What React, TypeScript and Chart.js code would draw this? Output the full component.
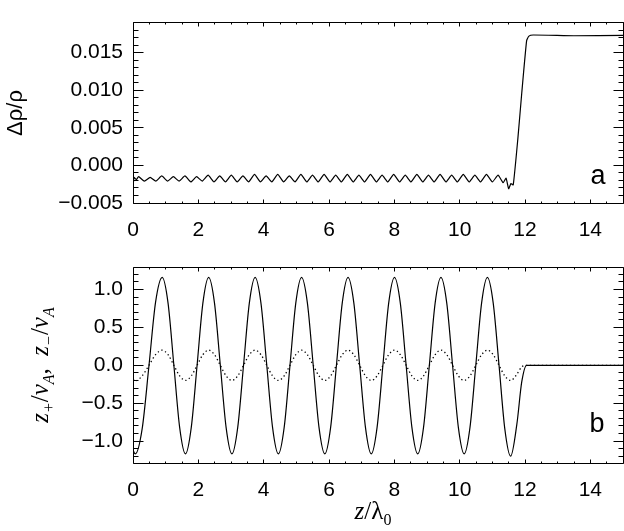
import React, { useEffect, useRef } from "react";
import { Chart, registerables } from "chart.js";
Chart.register(...registerables);

// ---- Panel a: density perturbation ----
const zTop = [
  0, 0.03, 0.10, 0.17, 0.35, 0.525, 0.70, 0.88, 1.06, 1.235, 1.41, 1.59, 1.77, 1.945, 2.12,
  2.30, 2.48, 2.655, 2.83, 3.01, 3.19, 3.365, 3.54, 3.72, 3.90, 4.075, 4.25, 4.43, 4.61,
  4.785, 4.96, 5.14, 5.32, 5.495, 5.67, 5.85, 6.03, 6.205, 6.38, 6.56, 6.74, 6.915, 7.09,
  7.27, 7.45, 7.625, 7.80, 7.98, 8.16, 8.335, 8.51, 8.69, 8.87, 9.045, 9.22, 9.40, 9.58,
  9.755, 9.93, 10.11, 10.29, 10.465, 10.64, 10.82, 11.00, 11.175, 11.33, 11.42, 11.50,
  11.57, 11.64, 11.78, 11.90, 12.05, 12.12, 12.25, 13.5, 15.0,
];
const rhoTop = [
  -0.0031, -0.0016, -0.0019, -0.0015, -0.0021, -0.0016, -0.0021, -0.0014, -0.0021, -0.0015, -0.0021, -0.0014, -0.0022, -0.0015, -0.0021,
  -0.0013, -0.0022, -0.0014, -0.0022, -0.0013, -0.0022, -0.0014, -0.0022, -0.0012, -0.0022, -0.0014, -0.0022, -0.0012, -0.0022,
  -0.0014, -0.0022, -0.0012, -0.0022, -0.0013, -0.0022, -0.0012, -0.0022, -0.0013, -0.0022, -0.0012, -0.0022, -0.0013, -0.0022,
  -0.0012, -0.0022, -0.0013, -0.0022, -0.0012, -0.0022, -0.0013, -0.0022, -0.0012, -0.0022, -0.0013, -0.0022, -0.0012, -0.0022,
  -0.0013, -0.0022, -0.0012, -0.0022, -0.0013, -0.0022, -0.0012, -0.0022, -0.0013, -0.0023, -0.0017, -0.0031,
  -0.0024, -0.0026, 0.0035, 0.0096, 0.0166, 0.0172, 0.01735, 0.01725, 0.0173,
];

// ---- Panel b: Elsasser variables ----
const zBot = [
  0, 0.07, 0.28, 0.49, 0.69,
  0.895, 1.073, 1.251, 1.428, 1.606, 1.784, 1.962, 2.139,
  2.317, 2.495, 2.673, 2.850, 3.028, 3.206, 3.384, 3.561,
  3.739, 3.917, 4.095, 4.272, 4.450, 4.628, 4.806, 4.983,
  5.161, 5.339, 5.517, 5.694, 5.872, 6.050, 6.228, 6.405,
  6.583, 6.761, 6.939, 7.116, 7.294, 7.472, 7.650, 7.827,
  8.005, 8.183, 8.361, 8.538, 8.716, 8.894, 9.072, 9.249,
  9.427, 9.605, 9.783, 9.960, 10.138, 10.316, 10.494, 10.671,
  10.849, 11.027, 11.205, 11.382, 11.560,
  11.75, 11.90, 12.05, 13.5, 15.0,
];
const zPlus = [
  -1.12, -1.17, -0.84, 0, 0.83,
  1.16, 0.82, 0, -0.82, -1.17, -0.82, 0, 0.82,
  1.16, 0.82, 0, -0.82, -1.17, -0.82, 0, 0.82,
  1.16, 0.82, 0, -0.82, -1.17, -0.82, 0, 0.82,
  1.16, 0.82, 0, -0.82, -1.17, -0.82, 0, 0.82,
  1.16, 0.82, 0, -0.82, -1.17, -0.82, 0, 0.82,
  1.16, 0.82, 0, -0.82, -1.17, -0.82, 0, 0.82,
  1.16, 0.82, 0, -0.82, -1.17, -0.82, 0, 0.82,
  1.16, 0.82, 0, -0.84, -1.20,
  -0.78, -0.22, 0, 0, 0,
];
const zMinus = [
  -0.18, -0.205, -0.14, 0, 0.14,
  0.2, 0.14, 0, -0.14, -0.2, -0.14, 0, 0.14,
  0.2, 0.14, 0, -0.14, -0.2, -0.14, 0, 0.14,
  0.2, 0.14, 0, -0.14, -0.2, -0.14, 0, 0.14,
  0.2, 0.14, 0, -0.14, -0.2, -0.14, 0, 0.14,
  0.2, 0.14, 0, -0.14, -0.2, -0.14, 0, 0.14,
  0.2, 0.14, 0, -0.14, -0.2, -0.14, 0, 0.14,
  0.2, 0.14, 0, -0.14, -0.2, -0.14, 0, 0.14,
  0.2, 0.14, 0, -0.14, -0.2,
  -0.12, -0.02, 0, 0, 0,
];

// ---- ticks ----
const xTicks = [0, 2, 4, 6, 8, 10, 12, 14];
const yTicksTop = [-0.005, 0, 0.005, 0.01, 0.015];
const yTicksBot = [-1.0, -0.5, 0, 0.5, 1.0];

const SANS = "'Liberation Sans', Arial, sans-serif";
const SERIF = "'Liberation Serif', 'DejaVu Serif', serif";

function fmt(v: number, d: number) {
  const s = Math.abs(v).toFixed(d);
  return (v < -1e-12 ? "\u2212" : "") + s;
}

type Part = { t: string; f: string; dy?: number };
function drawParts(ctx: CanvasRenderingContext2D, parts: Part[], cx: number, cy: number, rot: number) {
  ctx.save();
  ctx.translate(cx, cy);
  if (rot) ctx.rotate(rot);
  let w = 0;
  for (const p of parts) { ctx.font = p.f; w += ctx.measureText(p.t).width; }
  let x = -w / 2;
  ctx.textBaseline = "alphabetic";
  ctx.textAlign = "left";
  ctx.fillStyle = "#000";
  for (const p of parts) {
    ctx.font = p.f;
    ctx.fillText(p.t, x, p.dy || 0);
    x += ctx.measureText(p.t).width;
  }
  ctx.restore();
}

function boxPlugin(cfg: {
  yMinorStep: number; yMajorLen: number; yMinorLen: number; xMajorLen: number; xMinorLen: number;
  xMinorStep: number; yTicks: number[]; extra: (ctx: CanvasRenderingContext2D, chart: any) => void;
}) {
  return {
    id: "idlbox",
    afterDraw(chart: any) {
      const { ctx, chartArea: a, scales } = chart;
      const xs = scales.x, ys = scales.y;
      const L = Math.floor(a.left) + 0.5, R = Math.floor(a.right) + 0.5;
      const T = Math.floor(a.top) + 0.5, B = Math.floor(a.bottom) + 0.5;
      ctx.save();
      ctx.strokeStyle = "#000";
      ctx.lineWidth = 1;
      ctx.beginPath();
      ctx.rect(L, T, R - L, B - T);
      const xmin = xs.min, xmax = xs.max;
      for (let v = xmin; v <= xmax + 1e-9; v += cfg.xMinorStep) {
        const major = xTicks.some((t) => Math.abs(t - v) < 1e-9);
        const len = major ? cfg.xMajorLen : cfg.xMinorLen;
        const px = Math.floor(xs.getPixelForValue(v)) + 0.5;
        ctx.moveTo(px, B); ctx.lineTo(px, B - len);
        ctx.moveTo(px, T); ctx.lineTo(px, T + len);
      }
      const ymin = ys.min, ymax = ys.max;
      const start = Math.ceil(ymin / cfg.yMinorStep - 1e-6) * cfg.yMinorStep;
      for (let v = start; v <= ymax + 1e-12; v += cfg.yMinorStep) {
        const major = cfg.yTicks.some((t) => Math.abs(t - v) < cfg.yMinorStep * 0.01);
        const len = major ? cfg.yMajorLen : cfg.yMinorLen;
        const py = Math.floor(ys.getPixelForValue(v)) + 0.5;
        ctx.moveTo(L, py); ctx.lineTo(L + len, py);
        ctx.moveTo(R, py); ctx.lineTo(R - len, py);
      }
      ctx.stroke();
      ctx.restore();
      cfg.extra(ctx, chart);
    },
  };
}

function baseOptions(o: {
  ymin: number; ymax: number; yTicks: number[]; dec: number; padTop: number; xHeight: number;
}) {
  return {
    responsive: false,
    animation: false,
    events: [],
    layout: { padding: { top: o.padTop, right: 1, left: 0, bottom: 0 } },
    plugins: { legend: { display: false }, tooltip: { enabled: false } },
    scales: {
      x: {
        type: "linear",
        min: 0,
        max: 15,
        grid: { display: false, drawTicks: false },
        border: { display: false },
        afterBuildTicks: (s: any) => { s.ticks = xTicks.map((v) => ({ value: v })); },
        afterFit: (s: any) => { s.height = o.xHeight; },
        ticks: {
          font: { family: SANS, size: 21 },
          color: "#000",
          padding: 15,
          maxRotation: 0,
          autoSkip: false,
          callback: (v: any) => String(v),
        },
      },
      y: {
        type: "linear",
        min: o.ymin,
        max: o.ymax,
        grid: { display: false, drawTicks: false },
        border: { display: false },
        afterBuildTicks: (s: any) => { s.ticks = o.yTicks.map((v) => ({ value: v })); },
        afterFit: (s: any) => { s.width = 133; },
        ticks: {
          font: { family: SANS, size: 21 },
          color: "#000",
          padding: 10,
          autoSkip: false,
          callback: (v: any) => fmt(Number(v), o.dec),
        },
      },
    },
  };
}

export default function App() {
  const topRef = useRef<HTMLCanvasElement>(null);
  const botRef = useRef<HTMLCanvasElement>(null);

  useEffect(() => {
    const top = new Chart(topRef.current as HTMLCanvasElement, {
      type: "line",
      data: {
        datasets: [
          {
            data: zTop.map((x, i) => ({ x, y: rhoTop[i] })),
            borderColor: "#000",
            borderWidth: 1.2,
            pointRadius: 0,
            tension: 0.15,
            fill: false,
          },
        ],
      },
      options: baseOptions({ ymin: -0.005, ymax: 0.019, yTicks: yTicksTop, dec: 3, padTop: 1, xHeight: 42 }) as any,
      plugins: [
        boxPlugin({
          yMinorStep: 0.001, yMajorLen: 10, yMinorLen: 5, xMajorLen: 4, xMinorLen: 2, xMinorStep: 0.5,
          yTicks: yTicksTop,
          extra: (ctx) => {
            drawParts(ctx, [{ t: "\u0394\u03c1/\u03c1", f: `22px ${SANS}` }], 22, 113, -Math.PI / 2);
            ctx.save();
            ctx.font = `27px ${SANS}`;
            ctx.textAlign = "center";
            ctx.textBaseline = "alphabetic";
            ctx.fillStyle = "#000";
            ctx.fillText("a", 598, 184);
            ctx.restore();
          },
        }),
      ],
    });

    const I24 = `italic 25px ${SERIF}`;
    const R24 = `25px ${SERIF}`;
    const S15 = `italic 16px ${SERIF}`;
    const bot = new Chart(botRef.current as HTMLCanvasElement, {
      type: "line",
      data: {
        datasets: [
          {
            data: zBot.map((x, i) => ({ x, y: zPlus[i] })),
            borderColor: "#000",
            borderWidth: 1.2,
            pointRadius: 0,
            cubicInterpolationMode: "monotone",
            fill: false,
          },
          {
            data: zBot.map((x, i) => ({ x, y: zMinus[i] })),
            borderColor: "#000",
            borderWidth: 1.3,
            borderDash: [1.3, 2.7],
            pointRadius: 0,
            cubicInterpolationMode: "monotone",
            fill: false,
          },
        ],
      },
      options: baseOptions({ ymin: -1.29, ymax: 1.29, yTicks: yTicksBot, dec: 1, padTop: 15, xHeight: 68 }) as any,
      plugins: [
        boxPlugin({
          yMinorStep: 0.1, yMajorLen: 10, yMinorLen: 5, xMajorLen: 4, xMinorLen: 2, xMinorStep: 0.5,
          yTicks: yTicksBot,
          extra: (ctx) => {
            drawParts(
              ctx,
              [
                { t: "z", f: I24 },
                { t: "+", f: S15, dy: 6 },
                { t: "/", f: R24 },
                { t: "v", f: I24 },
                { t: "A", f: S15, dy: 6 },
                { t: ",  ", f: R24 },
                { t: "z", f: I24 },
                { t: "\u2212", f: S15, dy: 6 },
                { t: "/", f: R24 },
                { t: "v", f: I24 },
                { t: "A", f: S15, dy: 6 },
              ],
              48,
              120,
              -Math.PI / 2
            );
            drawParts(
              ctx,
              [
                { t: "z", f: I24 },
                { t: "/", f: R24 },
                { t: "\u03bb", f: R24 },
                { t: "0", f: `16px ${SERIF}`, dy: 6 },
              ],
              373,
              274,
              0
            );
            ctx.save();
            ctx.font = `27px ${SANS}`;
            ctx.textAlign = "center";
            ctx.textBaseline = "alphabetic";
            ctx.fillStyle = "#000";
            ctx.fillText("b", 597, 187);
            ctx.restore();
          },
        }),
      ],
    });

    return () => {
      top.destroy();
      bot.destroy();
    };
  }, []);

  return (
    <div style={{ position: "absolute", left: 0, top: 0, width: 624, height: 531, background: "#fff" }}>
      <canvas ref={topRef} width={624} height={245} style={{ position: "absolute", left: 0, top: 0, display: "block" }} />
      <canvas ref={botRef} width={624} height={286} style={{ position: "absolute", left: 0, top: 245, display: "block" }} />
    </div>
  );
}
